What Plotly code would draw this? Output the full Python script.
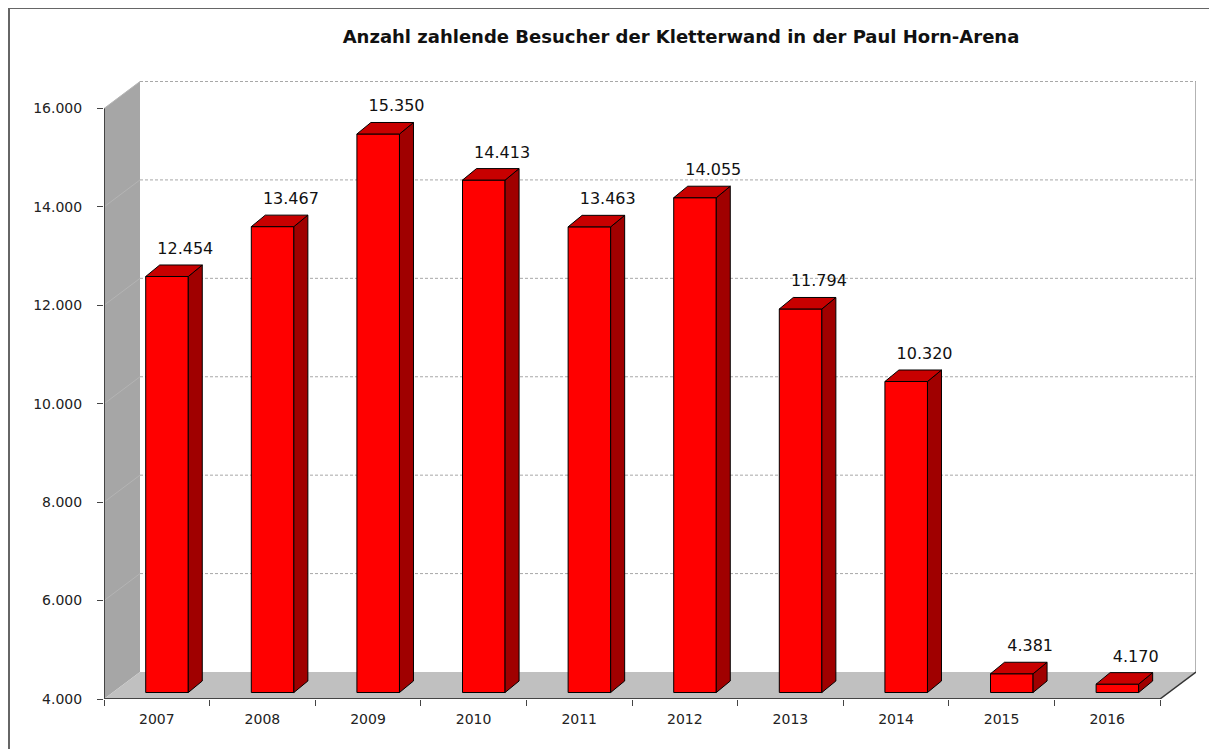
import plotly.graph_objects as go

# ---- data ----
years = ["2007", "2008", "2009", "2010", "2011", "2012", "2013", "2014", "2015", "2016"]
visitors = [12454, 13467, 15350, 14413, 13463, 14055, 11794, 10320, 4381, 4170]
y_ticks = [4000, 6000, 8000, 10000, 12000, 14000, 16000]
title_text = "Anzahl zahlende Besucher der Kletterwand in der Paul Horn-Arena"

# ---- geometry (page pixels -> figure pixels -> data units) ----
OFF = 8  # default body margin of the html page
W, H = 1217 - OFF, 749 - OFF
L_PX, R_PX, T_PX, B_PX = 104 - OFF, 1196 - OFF, 81 - OFF, 699 - OFF
TOP_TICK_PX = 108.5 - OFF
FRONT_RIGHT_PX = 1160 - OFF
Y0, Y1 = 4000, 16000
px_per_cat = (FRONT_RIGHT_PX - L_PX) / len(years)
px_per_unit = (B_PX - TOP_TICK_PX) / (Y1 - Y0)
x_lo = -0.5
x_hi = x_lo + (R_PX - L_PX) / px_per_cat
y_lo = Y0
y_hi = Y0 + (B_PX - T_PX) / px_per_unit

def dxu(px):
    return px / px_per_cat

def dyu(px):
    return px / px_per_unit

wall_dx, wall_dy = dxu(36), dyu(27)
bar_off, bar_w = -0.105, 0.403
bar_dy = dyu(6.5)
depth_dx, depth_dy = dxu(14), dyu(11.5)

def fmt(v):
    return f"{v:,}".replace(",", ".")

idx = list(range(len(years)))

fig = go.Figure()
fig.add_trace(go.Bar(
    x=idx, y=[v - Y0 for v in visitors], base=Y0 + bar_dy,
    offset=bar_off, width=bar_w,
    marker=dict(color="#ff0000", line=dict(color="#000000", width=1)),
    hoverinfo="skip", showlegend=False,
))
fig.add_trace(go.Scatter(
    x=[i + 0.27 for i in idx],
    y=[v + bar_dy + depth_dy + dyu(15) for v in visitors],
    mode="text", text=[fmt(v) for v in visitors],
    textposition="middle center",
    textfont=dict(family="DejaVu Sans", size=16, color="#111111"),
    cliponaxis=False, hoverinfo="skip", showlegend=False,
))

shapes = []
xr = len(years) - 0.5
# left wall
shapes.append(dict(type="path", layer="below", xref="x", yref="y",
                   path=f"M{x_lo},{Y0} L{x_lo},{Y1} L{x_lo+wall_dx},{Y1+wall_dy} L{x_lo+wall_dx},{Y0+wall_dy} Z",
                   fillcolor="#a6a6a6", line=dict(width=0)))
# floor
shapes.append(dict(type="path", layer="below", xref="x", yref="y",
                   path=f"M{x_lo},{Y0} L{x_lo+wall_dx},{Y0+wall_dy} L{xr+wall_dx},{Y0+wall_dy} L{xr},{Y0} Z",
                   fillcolor="#c0c0c0", line=dict(width=0)))
# back wall gridlines + wall diagonals
for t in y_ticks[1:]:
    shapes.append(dict(type="line", layer="below", xref="x", yref="y",
                       x0=x_lo + wall_dx, x1=xr + wall_dx, y0=t + wall_dy, y1=t + wall_dy,
                       line=dict(color="#a8a8a8", width=1, dash="3px,2px")))
    shapes.append(dict(type="line", layer="below", xref="x", yref="y",
                       x0=x_lo, x1=x_lo + wall_dx, y0=t, y1=t + wall_dy,
                       line=dict(color="#b4b4b4", width=1)))
# back wall right edge
shapes.append(dict(type="line", layer="below", xref="x", yref="y",
                   x0=xr + wall_dx, x1=xr + wall_dx, y0=Y0 + wall_dy, y1=Y1 + wall_dy,
                   line=dict(color="#9a9a9a", width=1.5)))
# floor right diagonal
shapes.append(dict(type="line", layer="below", xref="x", yref="y",
                   x0=xr, x1=xr + wall_dx, y0=Y0, y1=Y0 + wall_dy,
                   line=dict(color="#333333", width=1.5)))
# axis lines
shapes.append(dict(type="line", layer="above", xref="x", yref="y",
                   x0=x_lo, x1=xr, y0=Y0, y1=Y0, line=dict(color="#444444", width=2)))
shapes.append(dict(type="line", layer="above", xref="x", yref="y",
                   x0=x_lo, x1=x_lo, y0=Y0, y1=Y1, line=dict(color="#444444", width=2)))

# bar side & top faces
for i, v in zip(idx, visitors):
    xl = i + bar_off
    xrr = xl + bar_w
    b = Y0 + bar_dy
    t = v + bar_dy
    shapes.append(dict(type="path", layer="above", xref="x", yref="y",
                       path=f"M{xrr},{b} L{xrr},{t} L{xrr+depth_dx},{t+depth_dy} L{xrr+depth_dx},{b+depth_dy} Z",
                       fillcolor="#a00000", line=dict(color="#000000", width=1)))
    shapes.append(dict(type="path", layer="above", xref="x", yref="y",
                       path=f"M{xl},{t} L{xrr},{t} L{xrr+depth_dx},{t+depth_dy} L{xl+depth_dx},{t+depth_dy} Z",
                       fillcolor="#c80000", line=dict(color="#000000", width=1)))

# outer frame
pw, ph = R_PX - L_PX, B_PX - T_PX
def px2paper_x(px):
    return (px - L_PX) / pw
def px2paper_y(py):
    return (B_PX - py) / ph
shapes.append(dict(type="rect", xref="paper", yref="paper", layer="above",
                   x0=px2paper_x(1), x1=px2paper_x(W + 20), y0=px2paper_y(H + 20), y1=px2paper_y(0),
                   line=dict(color="#666666", width=2), fillcolor="rgba(0,0,0,0)"))

fig.update_layout(
    width=W, height=H,
    margin=dict(l=L_PX, r=W - R_PX, t=T_PX, b=H - B_PX, pad=0),
    paper_bgcolor="white", plot_bgcolor="white",
    separators=",.",
    shapes=shapes,
    showlegend=False,
    title=dict(text=title_text, x=(681 - OFF) / W, xref="container", xanchor="center",
               y=1 - (37 - OFF) / H, yref="container", yanchor="middle",
               font=dict(family="DejaVu Sans", size=18, color="#111111", weight="bold")),
    xaxis=dict(range=[x_lo, x_hi], tickmode="array", tickvals=idx, ticktext=years,
               showgrid=False, zeroline=False, showline=False,
               ticks="", ticklabelstandoff=10,
               tickfont=dict(family="DejaVu Sans", size=14, color="#222222"),
               minor=dict(tickmode="linear", tick0=-0.5, dtick=1, ticks="outside",
                          ticklen=6, tickcolor="#444444", tickwidth=1, showgrid=False),
               fixedrange=True),
    yaxis=dict(range=[y_lo, y_hi], tickmode="array", tickvals=y_ticks,
               ticktext=[fmt(t) for t in y_ticks],
               showgrid=False, zeroline=False, showline=False,
               ticks="outside", ticklen=6, tickcolor="#444444", tickwidth=1,
               ticklabelstandoff=12,
               tickfont=dict(family="DejaVu Sans", size=14, color="#222222"),
               fixedrange=True),
)

fig.write_html("out.html")
